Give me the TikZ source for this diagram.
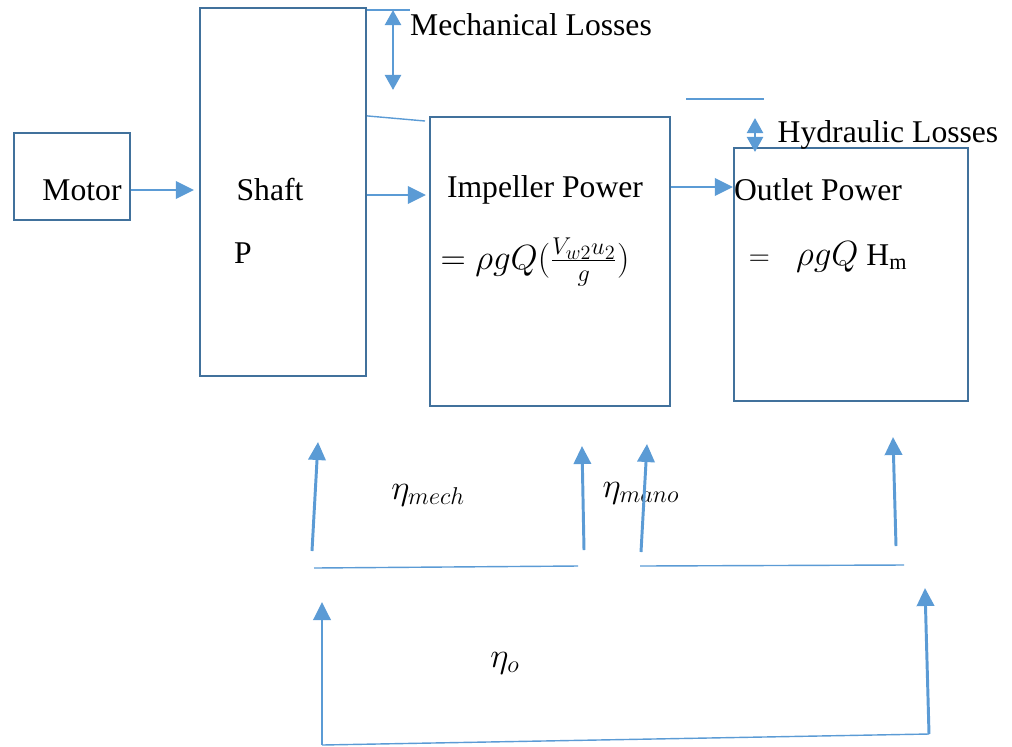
\documentclass[tikz,border=0pt]{standalone}
\usepackage{fontspec}
\setmainfont{Liberation Serif}
\usepackage{tikz}
\usetikzlibrary{arrows.meta}

\definecolor{boxblue}{RGB}{65,113,156}
\definecolor{arrblue}{RGB}{91,155,213}

\begin{document}
\begin{tikzpicture}[
    x=0.025cm, y=-0.025cm,
    font=\fontsize{22.5}{26}\selectfont,
    box/.style={draw=boxblue, line width=1.5pt, rectangle, inner sep=0pt},
    lbl/.style={inner sep=0pt, anchor=center},
    mlbl/.style={lbl, font=\fontsize{27}{30}\selectfont},
    arr/.style={arrblue, line width=2.1pt, -{Triangle[length=4.5mm, width=4.3mm]}},
    darr/.style={arrblue, line width=2.1pt, {Triangle[length=3.8mm, width=4mm]}-{Triangle[length=3.8mm, width=4mm]}},
    thin/.style={arrblue, line width=1pt},
  ]
    \useasboundingbox (0,0) rectangle (1012,746);
    % blocks
    \node[box, minimum width=2.9cm, minimum height=2.175cm] (motor) at (72,176.5) {};
    \node[box, minimum width=4.15cm, minimum height=9.2cm] (shaft) at (283,192) {};
    \node[box, minimum width=6cm, minimum height=7.225cm] (imp) at (550,261.5) {};
    \node[box, minimum width=5.85cm, minimum height=6.325cm] (out) at (851,274.5) {};
    % texts
    \node[lbl] (tmotor) at (82,190) {Motor};
    \node[lbl] (tshaft) at (270,190) {Shaft};
    \node[lbl] (tp) at (243,253) {P};
    \node[lbl] (timp) at (545,190) {Impeller Power};
    \node[mlbl] (fimp) at (535,262) {$=\rho g Q(\frac{V_{w2}u_2}{g})$};
    \node[lbl] (tout) at (818,190) {Outlet Power};
    \node[lbl] (fout) at (828,257) {$=$\;\;\;{\fontsize{26}{30}\selectfont$\rho g Q$} H\textsubscript{m}};
    \node[lbl] (tmech) at (531,25) {Mechanical Losses};
    \node[lbl] (thyd) at (888,135) {Hydraulic Losses};
    \node[mlbl] (emech) at (428,495) {$\eta_{mech}$};
    \node[mlbl] (emano) at (641,493) {$\eta_{mano}$};
    \node[mlbl] (eo) at (505,663) {$\eta_{o}$};
    % flow arrows
    \draw[arr] (motor.east |- tmotor) -- ([xshift=-0.125cm]shaft.west |- tmotor);
    \draw[arr] ([yshift=-0.125cm]shaft.east |- tshaft) -- ([xshift=-0.075cm, yshift=-0.125cm]imp.west |- tshaft);
    \draw[arr] ([yshift=0.075cm]imp.east |- timp) -- ([yshift=0.075cm]out.west |- timp);
    % losses
    \coordinate (m1) at (410,10);
    \coordinate (m2) at (425,121);
    \coordinate (m3) at (393,10);
    \coordinate (m4) at (393,90);
    \draw[thin] (shaft.north east |- m1) -- (m1);
    \draw[thin] (shaft.east |- imp.north) -- (m2);
    \draw[darr] (m3) -- (m4);
    \coordinate (h1) at (686,99);
    \coordinate (h2) at (764,99);
    \coordinate (h3) at (755,118);
    \coordinate (h4) at (755,152);
    \draw[thin] (h1) -- (h2);
    \draw[darr] (h3) -- (h4);
    % efficiencies
    \coordinate (a1) at (312,551);
    \coordinate (a2) at (318,442);
    \coordinate (a3) at (584,550);
    \coordinate (a4) at (582,446);
    \coordinate (l1) at (314,568);
    \coordinate (l2) at (578,566);
    \draw[arr] (a1) -- (a2);
    \draw[arr] (a3) -- (a4);
    \draw[thin] (l1) -- (l2);
    \coordinate (b1) at (641,552);
    \coordinate (b2) at (647,444);
    \coordinate (b3) at (896,546);
    \coordinate (b4) at (893,437);
    \coordinate (k1) at (640,566);
    \coordinate (k2) at (904,565);
    \draw[arr] (b1) -- (b2);
    \draw[arr] (b3) -- (b4);
    \draw[thin] (k1) -- (k2);
    \coordinate (c1) at (322,745);
    \coordinate (c2) at (322,602);
    \coordinate (c3) at (929,734);
    \coordinate (c4) at (925,588);
    \draw[arr] (c1) -- (c2);
    \draw[arr] (c3) -- (c4);
    \draw[thin] (c1) -- (c3);
  \end{tikzpicture}
\end{document}
